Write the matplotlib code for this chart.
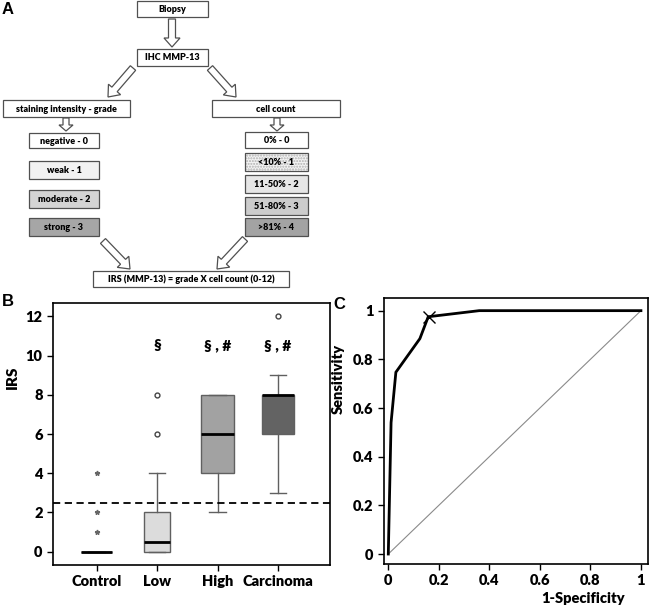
import matplotlib
matplotlib.use('Agg')
import matplotlib.pyplot as plt
from matplotlib.patches import Rectangle, FancyArrow

plt.rcParams['font.family'] = ['Lato', 'Carlito', 'DejaVu Sans']
plt.rcParams['font.weight'] = 'heavy'
W = 'heavy'

# ---- panel A: flowchart text
top_label = 'Biopsy'
mid_label = 'IHC MMP-13'
left_head = 'staining intensity - grade'
right_head = 'cell count'
grade_labels = ['negative - 0', 'weak - 1', 'moderate - 2', 'strong - 3']
count_labels = ['0% - 0', '<10% - 1', '11-50% - 2', '51-80% - 3', '>81% - 4']
result_label = 'IRS (MMP-13) = grade X cell count (0-12)'

# ---- panel B: boxplot of IRS per group
groups = ['Control', 'Low', 'High', 'Carcinoma']
q1 = [0, 0, 4, 6]
med = [0, 0.5, 6, 8]
q3 = [0, 2, 8, 8]
whislo = [0, 0, 2, 3]
whishi = [0, 4, 8, 9]
outliers = [[1, 2, 4], [6, 8], [], [12]]
cutoff = 2.5
signif = ['', '§', '§ , #', '§ , #']

# ---- panel C: ROC curve
fpr = [0, 0.011, 0.03, 0.125, 0.158, 0.36, 1.0]
tpr = [0, 0.54, 0.747, 0.885, 0.975, 1.0, 1.0]
cut_fpr, cut_tpr = 0.16, 0.975

fig = plt.figure(figsize=(6.5, 6.05), dpi=100)

# flowchart drawn in pixel coords on a full-figure axes
axA = fig.add_axes([0, 0, 1, 1])
axA.set_xlim(0, 650)
axA.set_ylim(605, 0)
axA.axis('off')

EC = '#505050'


def box(x0, y0, x1, y1, text, fc='white', hatch=False):
    axA.add_patch(Rectangle((x0, y0), x1 - x0, y1 - y0, fc=fc, ec='none'))
    if hatch:
        axA.add_patch(Rectangle((x0, y0), x1 - x0, y1 - y0, fill=False,
                                ec='#b0b0b0', lw=0, hatch='......'))
    axA.add_patch(Rectangle((x0, y0), x1 - x0, y1 - y0, fill=False, ec=EC, lw=0.9))
    axA.text((x0 + x1) / 2, (y0 + y1) / 2 + 0.5, text, ha='center', va='center',
             fontsize=6.5, fontweight=W)


def arrow(x0, y0, x1, y1, w=7, hw=16, hl=10):
    axA.add_patch(FancyArrow(x0, y0, x1 - x0, y1 - y0, width=w, head_width=hw,
                             head_length=hl, length_includes_head=True,
                             fc='white', ec=EC, lw=0.9))


box(137, 1, 208, 17, top_label)
arrow(172, 19, 172, 47, w=7, hw=16, hl=9)
box(137, 49, 208, 66, mid_label)
arrow(133, 68, 108, 97)
arrow(210, 68, 236, 97)
box(3, 100, 130, 117, left_head)
box(212, 100, 340, 117, right_head)
arrow(66, 118, 66, 131, w=6, hw=14, hl=6)
arrow(277, 118, 277, 131, w=6, hw=14, hl=6)

grade_fc = ['white', '#f2f2f2', '#d4d4d4', '#a6a6a6']
grade_y = [(133, 148), (161, 179), (190, 208), (218, 236)]
for lab, fc, (ya, yb) in zip(grade_labels, grade_fc, grade_y):
    box(29, ya, 99, yb, lab, fc=fc)

count_fc = ['white', '#f4f4f4', '#e6e6e6', '#cccccc', '#a3a3a3']
count_y = [(132, 148), (153, 171), (175, 193), (197, 215), (218, 236)]
for i, (lab, fc, (ya, yb)) in enumerate(zip(count_labels, count_fc, count_y)):
    box(245, ya, 308, yb, lab, fc=fc, hatch=(i == 1))

arrow(103, 241, 130, 269)
arrow(245, 239, 217, 269)
box(93, 271, 289, 287, result_label)

for lab, x, y in [('A', 2, 2), ('B', 2, 294), ('C', 333, 297)]:
    axA.text(x, y, lab, ha='left', va='top', fontsize=12, fontweight='bold',
             family='Liberation Sans')

# ---- panel B
axB = fig.add_axes([53 / 650, 40 / 605, 277 / 650, 262 / 605])
pos = [1, 2, 3, 4]
stats = []
for i in range(len(groups)):
    stats.append(dict(label=groups[i], q1=q1[i], med=med[i], q3=q3[i],
                      whislo=whislo[i], whishi=whishi[i], fliers=[]))
widths = [0.52, 0.42, 0.56, 0.53]
bp = axB.bxp(stats, positions=pos, widths=widths, capwidths=0.27,
             patch_artist=True, showfliers=False,
             boxprops=dict(edgecolor='#606060', linewidth=1),
             whiskerprops=dict(color='#606060', linewidth=1),
             capprops=dict(color='#606060', linewidth=1),
             medianprops=dict(color='black', linewidth=2))
box_fc = ['white', '#dcdcdc', '#a2a2a2', '#636363']
for patch, fc in zip(bp['boxes'], box_fc):
    patch.set_facecolor(fc)

for i, vals in enumerate(outliers):
    if not vals:
        continue
    if i == 0:
        axB.plot([pos[i]] * len(vals), vals, ls='none', marker='*', ms=3.5,
                 color='#666666')
    else:
        axB.plot([pos[i]] * len(vals), vals, ls='none', marker='o', ms=3.5,
                 mfc='white', mec='#444444', mew=1)

axB.axhline(cutoff, color='black', lw=1.3, ls=(0, (4, 2.5)))
for p, s in zip(pos, signif):
    axB.text(p, 10.5, s, ha='center', va='center', fontsize=11, fontweight=W)

axB.set_xlim(0.28, 4.86)
axB.set_ylim(-0.68, 12.68)
axB.set_yticks(range(0, 13, 2))
axB.set_xticks(pos)
axB.set_xticklabels(groups)
axB.tick_params(labelsize=10.5, length=4, width=1)
axB.set_ylabel('IRS', fontsize=11, fontweight=W)
axB.yaxis.set_label_coords(-0.123, 0.717)
for sp in axB.spines.values():
    sp.set_linewidth(1.2)

# ---- panel C
axC = fig.add_axes([384 / 650, 41 / 605, 264 / 650, 266 / 605])
axC.plot([0, 1], [0, 1], color='#8a8a8a', lw=0.8)
axC.plot(fpr, tpr, color='black', lw=2, solid_joinstyle='miter')
axC.plot([cut_fpr], [cut_tpr], marker='x', ms=9, mew=1, color='black')
axC.set_xlim(-0.017, 1.028)
axC.set_ylim(-0.041, 1.052)
ticks = [0, 0.2, 0.4, 0.6, 0.8, 1]
tick_lab = ['0', '0.2', '0.4', '0.6', '0.8', '1']
axC.set_xticks(ticks)
axC.set_xticklabels(tick_lab)
axC.set_yticks(ticks)
axC.set_yticklabels(tick_lab)
axC.tick_params(labelsize=10.5, length=4, width=1)
axC.set_ylabel('Sensitivity', fontsize=10.5, fontweight=W)
axC.yaxis.set_label_coords(-0.15, 0.697)
axC.set_xlabel('1-Specificity', fontsize=10.5, fontweight=W)
axC.xaxis.set_label_coords(0.754, -0.105)
for sp in axC.spines.values():
    sp.set_linewidth(1.2)

for ax in (axB, axC):
    for t in ax.get_xticklabels() + ax.get_yticklabels():
        t.set_fontweight(W)

fig.savefig('out.png', dpi=100)
